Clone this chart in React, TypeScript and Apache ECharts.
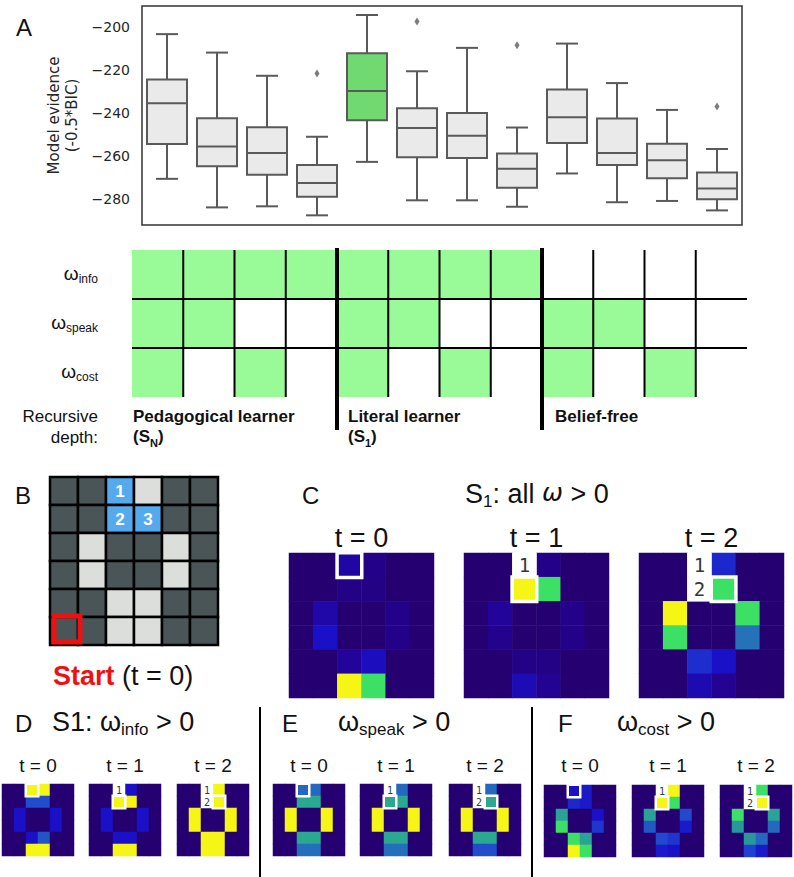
import React, { useEffect, useRef } from 'react';
import * as echarts from 'echarts';

const SANS = '"Liberation Sans", Arial, sans-serif';
const DEJAVU = '"DejaVu Sans", sans-serif';
const MONO = '"DejaVu Sans Mono", monospace';

// ---------- Panel A: model evidence boxplots ----------
const modelLabels = ['1', '2', '3', '4', '5', '6', '7', '8', '9', '10', '11', '12'];
const whiskerLow = [-270.5, -283.8, -283.3, -287.5, -262.6, -280.5, -280.5, -283.5, -268.0, -281.4, -280.8, -285.2];
const quartile1 = [-254.3, -264.6, -268.6, -278.9, -243.2, -260.5, -260.8, -274.6, -253.8, -264.1, -270.2, -280.0];
const medians = [-235.3, -255.4, -258.5, -272.4, -229.6, -246.8, -250.4, -265.8, -241.8, -258.5, -261.8, -275.0];
const quartile3 = [-224.2, -242.3, -246.5, -264.0, -212.0, -237.6, -239.8, -258.7, -228.9, -242.4, -254.1, -267.6];
const whiskerHigh = [-203.1, -211.7, -222.5, -250.9, -194.2, -220.4, -209.5, -246.6, -207.5, -225.9, -238.4, -256.6];
const outlierModels = [3, 5, 7, 11];
const outlierValues = [-221.4, -197.2, -208.3, -236.8];
const bestModel = 4;
const yAxisMin = -292;
const yAxisMax = -190;

// ---------- Model table ----------
const weightNames = ['info', 'speak', 'cost'];
const infoOn = [1, 1, 1, 1, 1, 1, 1, 1, 0, 0, 0, 0];
const speakOn = [1, 1, 0, 0, 1, 1, 0, 0, 1, 1, 0, 0];
const costOn = [1, 0, 1, 0, 1, 0, 1, 0, 1, 0, 1, 0];
const groupNames = ['Pedagogical learner', 'Literal learner', 'Belief-free'];
const groupSubs = ['N', '1', ''];
const groupSize = 4;

// ---------- Panel B: maze ----------
const mazeRows = ['WWBLWW', 'WWBBWW', 'WLWWLW', 'WLWWLW', 'WWLLWW', 'WWLLWW'];
const mazeNumbers = [[2, 0, '1'], [2, 1, '2'], [3, 1, '3']];
const startCell = [0, 5];

// ---------- Heatmaps (rows top->bottom, cols left->right) ----------
const timeSteps = ['t = 0', 't = 1', 't = 2'];
const visitedByStep = [[], [[2, 0]], [[2, 0], [2, 1]]];
const currentByStep = [[2, 0], [2, 1], [3, 1]];

const heatC0 = [
  [0, 0, 0.12, 0.06, 0, 0],
  [0, 0, 0.05, 0.05, 0, 0],
  [0, 0.13, 0, 0, 0.06, 0],
  [0, 0.2, 0, 0, 0.06, 0],
  [0, 0, 0.1, 0.18, 0, 0],
  [0, 0, 1, 0.8, 0, 0],
];
const heatC1 = [
  [0, 0, 0, 0.06, 0, 0],
  [0, 0, 1, 0.8, 0, 0],
  [0, 0.1, 0, 0, 0.06, 0],
  [0, 0.07, 0, 0, 0.06, 0],
  [0, 0, 0.05, 0.05, 0, 0],
  [0, 0, 0.16, 0.08, 0, 0],
];
const heatC2 = [
  [0, 0, 0, 0.25, 0, 0],
  [0, 0, 0, 0.8, 0, 0],
  [0, 1, 0, 0, 0.8, 0],
  [0, 0.8, 0, 0, 0.43, 0],
  [0, 0, 0.26, 0.2, 0, 0],
  [0, 0, 0.15, 0.08, 0, 0],
];
const heatD0 = [
  [0, 0, 1, 1, 0, 0],
  [0, 0, 0.33, 0.33, 0, 0],
  [0, 0.2, 0, 0, 0.2, 0],
  [0, 0.2, 0, 0, 0.2, 0],
  [0, 0, 0.2, 0.35, 0, 0],
  [0, 0, 1, 1, 0, 0],
];
const heatD1 = [
  [0, 0, 0, 0.2, 0, 0],
  [0, 0, 1, 1, 0, 0],
  [0, 0.2, 0, 0, 0.2, 0],
  [0, 0.2, 0, 0, 0.2, 0],
  [0, 0, 0.2, 0.2, 0, 0],
  [0, 0, 1, 1, 0, 0],
];
const heatD2 = [
  [0, 0, 0, 1, 0, 0],
  [0, 0, 0, 1, 0, 0],
  [0, 1, 0, 0, 1, 0],
  [0, 1, 0, 0, 1, 0],
  [0, 0, 1, 1, 0, 0],
  [0, 0, 1, 1, 0, 0],
];
const heatE0 = [
  [0, 0, 0.4, 0.4, 0, 0],
  [0, 0, 0.6, 0.6, 0, 0],
  [0, 1, 0, 0, 1, 0],
  [0, 1, 0, 0, 1, 0],
  [0, 0, 0.6, 0.6, 0, 0],
  [0, 0, 0.42, 0.42, 0, 0],
];
const heatE1 = [
  [0, 0, 0, 0.4, 0, 0],
  [0, 0, 0.6, 0.6, 0, 0],
  [0, 1, 0, 0, 1, 0],
  [0, 1, 0, 0, 1, 0],
  [0, 0, 0.6, 0.6, 0, 0],
  [0, 0, 0.42, 0.42, 0, 0],
];
const heatE2 = [
  [0, 0, 0, 0.4, 0, 0],
  [0, 0, 0, 0.6, 0, 0],
  [0, 1, 0, 0, 1, 0],
  [0, 1, 0, 0, 1, 0],
  [0, 0, 0.6, 0.6, 0, 0],
  [0, 0, 0.33, 0.33, 0, 0],
];
const heatF0 = [
  [0, 0, 0.2, 0.22, 0, 0],
  [0, 0, 0.25, 0.22, 0, 0],
  [0, 0.58, 0, 0, 0.2, 0],
  [0, 0.8, 0, 0, 0.28, 0],
  [0, 0, 0.8, 0.58, 0, 0],
  [0, 0, 1, 0.8, 0, 0],
];
const heatF1 = [
  [0, 0, 0, 1, 0, 0],
  [0, 0, 1, 0.8, 0, 0],
  [0, 0.58, 0, 0, 0.32, 0],
  [0, 0.36, 0, 0, 0.22, 0],
  [0, 0, 0.32, 0.28, 0, 0],
  [0, 0, 0.22, 0.2, 0, 0],
];
const heatF2 = [
  [0, 0, 0, 0.8, 0, 0],
  [0, 0, 0, 1, 0, 0],
  [0, 0.8, 0, 0, 0.58, 0],
  [0, 0.55, 0, 0, 0.4, 0],
  [0, 0, 0.55, 0.4, 0, 0],
  [0, 0, 0.3, 0.22, 0, 0],
];

const heatPalette = ['#240070', '#22049a', '#1a10c8', '#2040d0', '#2468c0', '#2888a8', '#2aa890', '#34c878', '#3ce064', '#98ea40', '#f5f516'];

const heatPanels = [
  { mats: [heatC0, heatC1, heatC2], lefts: [289, 464, 639], top: 553, size: 145, big: true },
  { mats: [heatD0, heatD1, heatD2], lefts: [2, 89, 177], top: 784, size: 72, big: false },
  { mats: [heatE0, heatE1, heatE2], lefts: [273, 360, 449], top: 784, size: 72, big: false },
  { mats: [heatF0, heatF1, heatF2], lefts: [544, 632, 720], top: 785, size: 72, big: false },
];

function heatData(mat: number[][], step: number, big: boolean) {
  const visited = visitedByStep[step];
  const cur = currentByStep[step];
  const items: any[] = [];
  mat.forEach((row, r) =>
    row.forEach((v, c) => {
      if (cur[0] === c && cur[1] === r) return;
      if (visited.some((p) => p[0] === c && p[1] === r)) return;
      items.push({ value: [c, r, v] });
    })
  );
  items.push({
    value: [cur[0], cur[1], mat[cur[1]][cur[0]]],
    itemStyle: { borderColor: '#ffffff', borderWidth: big ? 3.5 : 2.5 },
  });
  return items;
}

function buildOption() {
  const grids: any[] = [];
  const xAxes: any[] = [];
  const yAxes: any[] = [];
  const series: any[] = [];
  const heatSeriesIdx: number[] = [];
  const visitedSeriesIdx: number[] = [];

  // ---- grid 0: boxplot ----
  grids.push({ left: 142, top: 6, width: 600, height: 219, show: true, borderColor: '#333', borderWidth: 1.5, backgroundColor: 'transparent', outerBoundsMode: 'none' });
  xAxes.push({ gridIndex: 0, type: 'category', data: modelLabels, show: false });
  yAxes.push({
    gridIndex: 0,
    type: 'value',
    min: yAxisMin,
    max: yAxisMax,
    axisLine: { show: false },
    axisTick: { show: false },
    splitLine: { show: false },
    axisLabel: {
      margin: 12,
      fontFamily: DEJAVU,
      fontSize: 14,
      color: '#262626',
      formatter: (v: number) => (Math.round(v) % 20 === 0 ? String(v).replace('-', '\u2212') : ''),
    },
    name: 'Model evidence\n(-0.5*BIC)',
    nameLocation: 'middle',
    nameGap: 52,
    nameTextStyle: { fontFamily: DEJAVU, fontSize: 15, lineHeight: 18, color: '#262626' },
  });
  const boxStroke = '#5a5a5a';
  series.push({
    type: 'custom',
    xAxisIndex: 0,
    yAxisIndex: 0,
    encode: { x: 0, y: [1, 2, 3, 4, 5] },
    data: modelLabels.map((_, i) => [i, whiskerLow[i], quartile1[i], medians[i], quartile3[i], whiskerHigh[i]]),
    renderItem: (params: any, api: any) => {
      const i = api.value(0);
      const pLo = api.coord([i, api.value(1)]);
      const pQ1 = api.coord([i, api.value(2)]);
      const pMed = api.coord([i, api.value(3)]);
      const pQ3 = api.coord([i, api.value(4)]);
      const pHi = api.coord([i, api.value(5)]);
      const band = api.size([1, 0])[0];
      const bw = band * 0.8;
      const cw = bw * 0.55;
      const x = pLo[0];
      const ls = { stroke: boxStroke, lineWidth: 2 };
      const fill = i === bestModel ? '#70da70' : '#eaeaea';
      return {
        type: 'group',
        children: [
          { type: 'line', shape: { x1: x, y1: pHi[1], x2: x, y2: pQ3[1] }, style: ls },
          { type: 'line', shape: { x1: x, y1: pQ1[1], x2: x, y2: pLo[1] }, style: ls },
          { type: 'line', shape: { x1: x - cw / 2, y1: pHi[1], x2: x + cw / 2, y2: pHi[1] }, style: ls },
          { type: 'line', shape: { x1: x - cw / 2, y1: pLo[1], x2: x + cw / 2, y2: pLo[1] }, style: ls },
          { type: 'rect', shape: { x: x - bw / 2, y: pQ3[1], width: bw, height: pQ1[1] - pQ3[1] }, style: { fill, stroke: boxStroke, lineWidth: 2 } },
          { type: 'line', shape: { x1: x - bw / 2, y1: pMed[1], x2: x + bw / 2, y2: pMed[1] }, style: ls },
        ],
      };
    },
  });
  series.push({
    type: 'scatter',
    xAxisIndex: 0,
    yAxisIndex: 0,
    symbol: 'diamond',
    symbolSize: [5, 8],
    itemStyle: { color: '#5a5a5a' },
    data: outlierModels.map((m, k) => [m, outlierValues[k]]),
  });

  // ---- grid 1: model table ----
  grids.push({ left: 132, top: 250, width: 615, height: 147, outerBoundsMode: 'none' });
  xAxes.push({ gridIndex: 1, type: 'value', min: 0, max: infoOn.length, show: false });
  yAxes.push({
    gridIndex: 1,
    type: 'category',
    data: weightNames,
    inverse: true,
    axisLine: { show: false },
    axisTick: { show: false },
    splitLine: { show: false },
    axisLabel: {
      margin: 34,
      formatter: (v: string) => `{w|ω}{s|${v}}`,
      rich: {
        w: { fontFamily: SANS, fontSize: 19, lineHeight: 21, verticalAlign: 'top', color: '#111' },
        s: { fontFamily: SANS, fontSize: 12, lineHeight: 16, verticalAlign: 'bottom', color: '#111' },
      },
    },
  });
  const weightRows = [infoOn, speakOn, costOn];
  const tableCells: number[][] = [];
  weightRows.forEach((row, r) => row.forEach((on, c) => tableCells.push([c, r, on])));
  series.push({
    type: 'custom',
    xAxisIndex: 1,
    yAxisIndex: 1,
    data: tableCells,
    renderItem: (params: any, api: any) => {
      const c = api.value(0);
      const r = api.value(1);
      const on = api.value(2);
      if (!on) return { type: 'group', children: [] };
      const p = api.coord([c, r]);
      const p2 = api.coord([c + 1, r]);
      const h = api.size([0, 1])[1];
      return { type: 'rect', shape: { x: p[0], y: p[1] - h / 2, width: p2[0] - p[0], height: h }, style: { fill: '#98fb98' } };
    },
  });
  const nCols = infoOn.length;
  const nRows = weightNames.length;
  series.push({
    type: 'custom',
    xAxisIndex: 1,
    yAxisIndex: 1,
    data: Array.from({ length: nCols - 1 }, (_, k) => [k + 1, 0]),
    renderItem: (params: any, api: any) => {
      const b = api.value(0);
      const heavy = b % groupSize === 0;
      const h = api.size([0, 1])[1];
      const top = api.coord([b, 0]);
      const bot = api.coord([b, nRows - 1]);
      return {
        type: 'line',
        shape: { x1: top[0], y1: top[1] - h / 2 - (heavy ? 2 : 0), x2: top[0], y2: bot[1] + h / 2 + (heavy ? 33 : 0) },
        style: { stroke: '#000', lineWidth: heavy ? 4 : 2 },
      };
    },
  });
  series.push({
    type: 'custom',
    xAxisIndex: 1,
    yAxisIndex: 1,
    data: Array.from({ length: nRows - 1 }, (_, k) => [0, k]),
    renderItem: (params: any, api: any) => {
      const r = api.value(1);
      const h = api.size([0, 1])[1];
      const a = api.coord([0, r]);
      const b = api.coord([nCols, r]);
      return {
        type: 'line',
        shape: { x1: a[0], y1: a[1] + h / 2, x2: b[0], y2: a[1] + h / 2 },
        style: { stroke: '#000', lineWidth: 2 },
      };
    },
  });

  // ---- grid 2: maze ----
  grids.push({ left: 50, top: 477, width: 168, height: 168, outerBoundsMode: 'none' });
  xAxes.push({ gridIndex: 2, type: 'value', min: 0, max: 6, show: false });
  yAxes.push({ gridIndex: 2, type: 'value', min: 0, max: 6, inverse: true, show: false });
  const mazeFill: Record<string, string> = { W: '#4a5558', L: '#dcdedc', B: '#55aaee' };
  const mazeItems: any[] = [];
  mazeRows.forEach((row, r) =>
    row.split('').forEach((t, c) => {
      const lab = mazeNumbers.find((m) => m[0] === c && m[1] === r);
      mazeItems.push({ value: [c, r], kind: t, label: lab ? (lab[2] as string) : '' });
    })
  );
  series.push({
    type: 'custom',
    xAxisIndex: 2,
    yAxisIndex: 2,
    data: mazeItems.map((m) => m.value),
    renderItem: (params: any, api: any) => {
      const item = mazeItems[params.dataIndex];
      const c = api.value(0);
      const r = api.value(1);
      const p0 = api.coord([c, r]);
      const p1 = api.coord([c + 1, r + 1]);
      const el: any = {
        type: 'rect',
        shape: { x: p0[0], y: p0[1], width: p1[0] - p0[0], height: p1[1] - p0[1] },
        style: { fill: mazeFill[item.kind], stroke: '#000', lineWidth: 2.5 },
      };
      if (item.label) {
        el.textContent = { style: { text: item.label, fill: '#fff', fontSize: 17, fontWeight: 'bold', fontFamily: SANS } };
        el.textConfig = { position: 'inside' };
      }
      return el;
    },
  });
  series.push({
    type: 'custom',
    xAxisIndex: 2,
    yAxisIndex: 2,
    data: [startCell],
    z: 5,
    renderItem: (params: any, api: any) => {
      const c = api.value(0);
      const r = api.value(1);
      const p0 = api.coord([c, r]);
      const p1 = api.coord([c + 1, r + 1]);
      const cx = (p0[0] + p1[0]) / 2 + 3;
      const cy = (p0[1] + p1[1]) / 2 - 2;
      return { type: 'rect', shape: { x: cx - 13, y: cy - 13, width: 26, height: 26 }, style: { fill: 'none', stroke: '#ee1111', lineWidth: 5 } };
    },
  });

  // ---- heatmap grids ----
  const cats = ['0', '1', '2', '3', '4', '5'];
  heatPanels.forEach((panel) => {
    panel.mats.forEach((mat, step) => {
      const gi = grids.length;
      grids.push({ left: panel.lefts[step], top: panel.top, width: panel.size, height: panel.size, outerBoundsMode: 'none' });
      xAxes.push({ gridIndex: gi, type: 'category', data: cats, show: false });
      yAxes.push({ gridIndex: gi, type: 'category', data: cats, inverse: true, show: false });
      heatSeriesIdx.push(series.length);
      series.push({
        type: 'heatmap',
        xAxisIndex: gi,
        yAxisIndex: gi,
        emphasis: { disabled: true },
        data: heatData(mat, step, panel.big),
      });
      const visited = visitedByStep[step];
      if (visited.length) {
        visitedSeriesIdx.push(series.length);
        series.push({
          type: 'heatmap',
          xAxisIndex: gi,
          yAxisIndex: gi,
          emphasis: { disabled: true },
          label: {
            show: true,
            color: '#2f3b3b',
            fontFamily: MONO,
            fontSize: panel.big ? 19 : 10,
            formatter: (p: any) => String(p.dataIndex + 1),
          },
          data: visited.map((p) => [p[0], p[1], 0]),
        });
      }
    });
  });

  // ---- texts ----
  const T = (x: number, y: number, text: string, size: number, extra: any = {}) => ({
    type: 'text',
    x,
    y,
    style: { text, fontFamily: SANS, fontSize: size, fill: '#111', verticalAlign: 'middle', align: 'left', ...extra },
  });
  const titleRich = {
    m: { fontFamily: SANS, fontSize: 27, lineHeight: 30, verticalAlign: 'top', fill: '#111', color: '#111' },
    sb: { fontFamily: SANS, fontSize: 17, lineHeight: 22, verticalAlign: 'bottom', fill: '#111', color: '#111' },
    it: { fontFamily: DEJAVU, fontStyle: 'italic', fontSize: 25, lineHeight: 30, verticalAlign: 'top', fill: '#111', color: '#111' },
    st: { fontFamily: SANS, fontWeight: 'bold', fontSize: 27, lineHeight: 30, verticalAlign: 'top', fill: '#ee1111', color: '#ee1111' },
  };
  const groupRich = {
    b: { fontFamily: SANS, fontWeight: 'bold', fontSize: 17, lineHeight: 20, verticalAlign: 'top', fill: '#111', color: '#111' },
    bs: { fontFamily: SANS, fontWeight: 'bold', fontSize: 11, lineHeight: 16, verticalAlign: 'bottom', fill: '#111', color: '#111' },
  };
  const graphic: any[] = [
    T(16, 27, 'A', 24),
    T(15, 495, 'B', 24),
    T(302, 495, 'C', 24),
    T(15, 723, 'D', 24),
    T(282, 723, 'E', 24),
    T(558, 723, 'F', 24),
    T(465, 495, '{m|S}{sb|1}{m|: all }{it|ω}{m| > 0}', 27, { rich: titleRich }),
    T(52, 723, '{m|S1: ω}{sb|info}{m| > 0}', 27, { rich: titleRich }),
    T(338, 723, '{m|ω}{sb|speak}{m| > 0}', 27, { rich: titleRich }),
    T(617, 723, '{m|ω}{sb|cost}{m| > 0}', 27, { rich: titleRich }),
    T(53, 677, '{st|Start}{m| (t = 0)}', 27, { rich: titleRich }),
    T(98, 427, 'Recursive\ndepth:', 17, { align: 'right', lineHeight: 21 }),
  ];
  const groupX = [133, 348, 555];
  groupNames.forEach((g, k) => {
    const txt = groupSubs[k] ? `{b|${g}}\n{b|(S}{bs|${groupSubs[k]}}{b|)}` : `{b|${g}}`;
    graphic.push({
      type: 'text',
      x: groupX[k],
      y: 408,
      style: { text: txt, rich: groupRich, verticalAlign: 'top', align: 'left', fontFamily: SANS, fontSize: 17 },
    });
  });
  heatPanels.forEach((panel) => {
    panel.lefts.forEach((left, step) => {
      graphic.push(
        T(left + panel.size / 2, panel.big ? 538 : 765, timeSteps[step], panel.big ? 27 : 19, { align: 'center' })
      );
    });
  });
  [260, 532].forEach((x) =>
    graphic.push({ type: 'line', shape: { x1: x, y1: 707, x2: x, y2: 877 }, style: { stroke: '#000', lineWidth: 2 } })
  );

  return {
    animation: false,
    backgroundColor: '#ffffff',
    textStyle: { fontFamily: SANS },
    grid: grids,
    xAxis: xAxes,
    yAxis: yAxes,
    visualMap: [
      {
        type: 'continuous',
        show: false,
        min: 0,
        max: 1,
        dimension: 2,
        seriesIndex: heatSeriesIdx,
        inRange: { color: heatPalette },
      },
      {
        type: 'continuous',
        show: false,
        min: 0,
        max: 1,
        dimension: 2,
        seriesIndex: visitedSeriesIdx,
        inRange: { color: ['#ffffff', '#ffffff'] },
      },
    ],
    series,
    graphic,
  };
}

export default function App() {
  const ref = useRef<HTMLDivElement>(null);
  useEffect(() => {
    if (!ref.current) return;
    const chart = echarts.init(ref.current, undefined, { renderer: 'svg' });
    chart.setOption(buildOption() as any);
    return () => chart.dispose();
  }, []);
  return <div ref={ref} style={{ position: 'absolute', left: 0, top: 0, width: 794, height: 877 }} />;
}
